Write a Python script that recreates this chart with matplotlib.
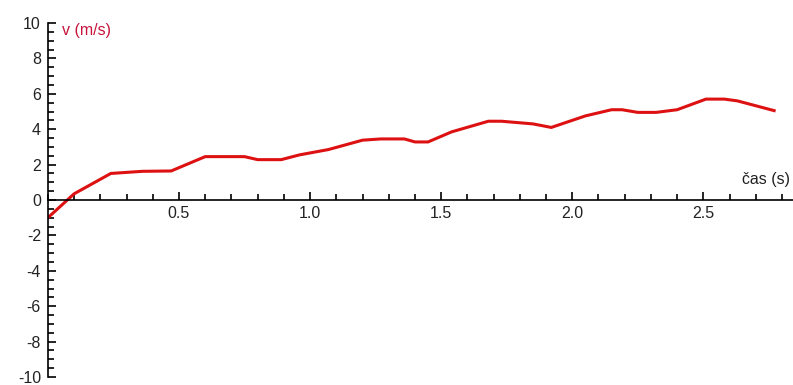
import matplotlib.pyplot as plt
from matplotlib.ticker import MultipleLocator

plt.rcParams['font.family'] = 'Liberation Sans'
plt.rcParams['axes.unicode_minus'] = False

# naměřená rychlost v čase
cas = [0.0, 0.10, 0.24, 0.29, 0.36, 0.47, 0.60, 0.75, 0.80, 0.89, 0.96,
       1.07, 1.20, 1.27, 1.36, 1.40, 1.45, 1.54, 1.68, 1.73, 1.85, 1.92,
       2.05, 2.15, 2.19, 2.25, 2.32, 2.40, 2.51, 2.58, 2.63, 2.77]
rychlost = [-1.0, 0.35, 1.5, 1.55, 1.62, 1.64, 2.45, 2.45, 2.28, 2.28, 2.55,
            2.85, 3.38, 3.45, 3.45, 3.28, 3.28, 3.85, 4.45, 4.45, 4.3, 4.1,
            4.75, 5.1, 5.1, 4.95, 4.95, 5.1, 5.7, 5.7, 5.6, 5.05]

fig = plt.figure(figsize=(7.93, 3.85), dpi=100)
ax = fig.add_axes([47.9 / 793, 8 / 385, (793 - 47.9) / 793, 354 / 385])

ax.plot(cas, rychlost, color='#dd1111', lw=2.2, solid_joinstyle='miter')

ax.set_xlim(0, 2.842)
ax.set_ylim(-10, 10)

# osy procházejí nulou
ax.spines['left'].set_position(('data', 0))
ax.spines['bottom'].set_position(('data', 0))
ax.spines['top'].set_visible(False)
ax.spines['right'].set_visible(False)
for s in ('left', 'bottom'):
    ax.spines[s].set_linewidth(1.2)

ax.xaxis.set_major_locator(MultipleLocator(0.5))
ax.xaxis.set_minor_locator(MultipleLocator(0.1))
ax.yaxis.set_major_locator(MultipleLocator(2))
ax.yaxis.set_minor_locator(MultipleLocator(0.5))
ax.set_xticks([0.5, 1.0, 1.5, 2.0, 2.5])
ax.set_xticklabels(['0.5', '1.0', '1.5', '2.0', '2.5'])

ax.tick_params(which='both', direction='in', width=1.2, labelsize=11.5,
               labelcolor='#222222')
ax.tick_params(which='major', length=6)
ax.tick_params(which='minor', length=4)
ax.tick_params(axis='y', pad=5)
ax.tick_params(axis='x', pad=4)

ax.text(62 / 793, 1 - 31 / 385, 'v (m/s)', transform=fig.transFigure,
        color='#c8143c', fontsize=11.5, va='center', ha='left')
ax.text(790 / 793, 1 - 179 / 385, 'čas (s)', transform=fig.transFigure,
        color='#222222', fontsize=11.5, va='center', ha='right')

fig.savefig('out.png', dpi=100)
